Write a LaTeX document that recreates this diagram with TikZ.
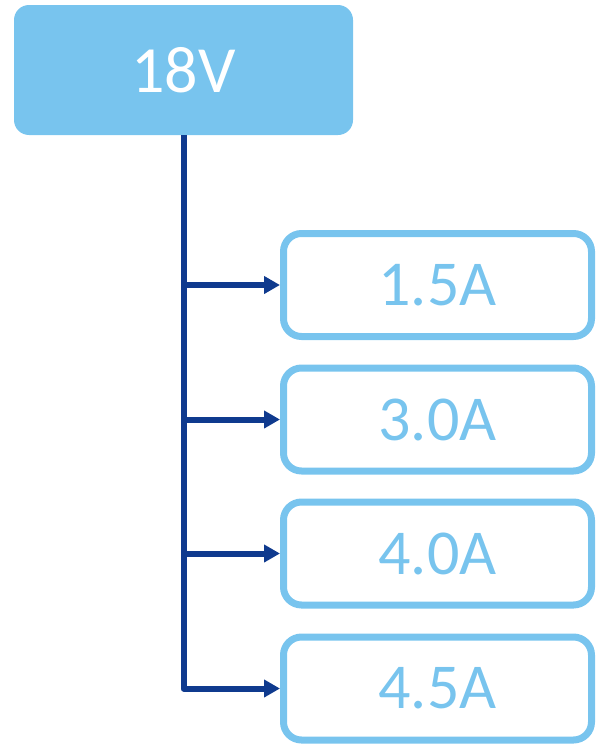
\documentclass[tikz,border=0pt]{standalone}
\usepackage{fontspec}
\setmainfont{Carlito}
\usetikzlibrary{arrows.meta}

\definecolor{lightblue}{HTML}{78C4EE}
\definecolor{darkblue}{HTML}{0F3A8E}

\tikzset{
    supply/.style={fill=lightblue, rounded corners=7.5pt, minimum width=169.5pt,
        minimum height=65pt, text=white, font=\fontsize{33}{33}\selectfont},
    current/.style={draw=lightblue, line width=3.5pt, rounded corners=9pt,
        minimum width=154pt, minimum height=51.5pt, text=lightblue,
        font=\fontsize{32}{32}\selectfont},
    feed/.style={draw=darkblue, line width=3pt, line join=round,
        -{Triangle[length=8pt,width=8.5pt]}}
}

\begin{document}
\begin{tikzpicture}[x=0.5pt, y=-0.5pt]
    \useasboundingbox (0, 0) rectangle (597, 744);

    \node [supply] (src) at (183.5, 70) {18V};

    \node [current] (a1) at (437.5, 285) {1.5A};
    \node [current] (a2) at (437.5, 419.5) {3.0A};
    \node [current] (a3) at (437.5, 553.5) {4.0A};
    \node [current] (a4) at (437.5, 688.5) {4.5A};

    \draw [feed] (src.south) |- (a4.west);
    \draw [feed] (src.south |- a1.west) -- (a1.west);
    \draw [feed] (src.south |- a2.west) -- (a2.west);
    \draw [feed] (src.south |- a3.west) -- (a3.west);
\end{tikzpicture}
\end{document}
